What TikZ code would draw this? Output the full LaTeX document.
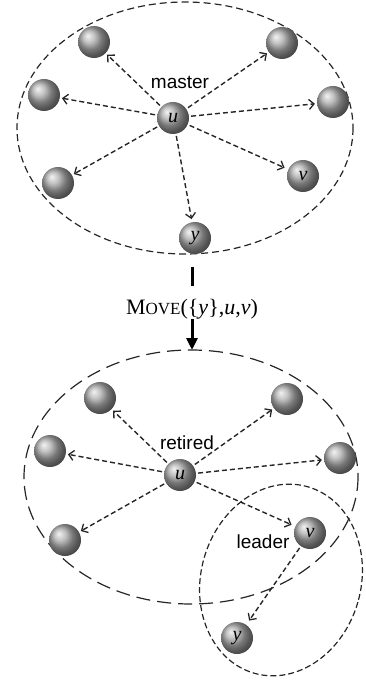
\documentclass[tikz,border=0pt]{standalone}
\usepackage{fontspec}
\setmainfont{Liberation Serif}
\newfontfamily\lsans{Liberation Sans}
\usetikzlibrary{arrows.meta}
\tikzset{
  sph/.style={circle, minimum size=32pt, inner sep=0pt, shading=ball, ball color=gray!65, font=\fontsize{20}{20}\selectfont\itshape},
  darr/.style={draw=black!85, line width=1.4pt, dash pattern=on 5pt off 3pt, -{Straight Barb[length=5pt,width=10pt,line width=1.3pt]}, shorten >=2pt, shorten <=2pt},
  lab/.style={font=\lsans\fontsize{19}{19}\selectfont, inner sep=1pt},
  encl/.style={draw=black!85, line width=1.2pt, dash pattern=on 7pt off 4pt},
  enclb/.style={draw=black!85, line width=1.2pt, dash pattern=on 14pt off 7pt},
  encls/.style={draw=black!85, line width=1.2pt, dash pattern=on 6pt off 3pt},
}
\begin{document}
\begin{tikzpicture}[x=1pt,y=-1pt]
\useasboundingbox (0,0) rectangle (366,684);
% ---------- top group ----------
\draw[encl] (185,128) ellipse [x radius=168, y radius=126];
\node[sph] (u1) at (173,118) {u};
\node[sph] (a1) at (94,42) {};
\node[sph] (b1) at (282,43) {};
\node[sph] (c1) at (44,95) {};
\node[sph] (d1) at (333,102) {};
\node[sph] (e1) at (58,183) {};
\node[sph] (v1) at (303,176) {v};
\node[sph] (y1) at (195,238) {y};
\node[lab] (m1) at (180,82) {master};
\foreach \t in {a1,b1,c1,d1,e1} \draw[darr] (u1) -- (\t);
\draw[darr, shorten >=4pt] (u1) -- (v1);
\draw[darr, shorten >=3pt] (u1) -- (y1);
% ---------- transition ----------
\coordinate (t0) at (192,267);
\coordinate (t1) at (192,286);
\coordinate (t2) at (192,319);
\coordinate (t3) at (192,350);
\node[font=\fontsize{22}{22}\selectfont, inner sep=0pt] (mv) at (192,309)
  {M{\fontsize{17}{17}\selectfont OVE}(\{\textit{y}\},\textit{u},\textit{v})};
\draw[line width=3pt] (t0) -- (t1);
\draw[line width=3pt, -{Triangle[length=12pt,width=11pt]}] (t2) -- (t3);
% ---------- bottom group ----------
\draw[enclb] (191,477) ellipse [x radius=167, y radius=127];
\draw[encls, rotate around={-16:(281,580)}] (281,580) ellipse [x radius=80, y radius=97];
\node[sph] (u2) at (180,475) {u};
\node[sph] (a2) at (100,398) {};
\node[sph] (b2) at (287,399) {};
\node[sph] (c2) at (50,451) {};
\node[sph] (d2) at (340,458) {};
\node[sph] (e2) at (65,540) {};
\node[sph] (v2) at (310,533) {v};
\node[sph] (y2) at (237,638) {y};
\node[lab] (r2) at (187,443) {retired};
\node[lab] (l2) at (263,542) {leader};
\foreach \t in {a2,b2,c2,d2,e2} \draw[darr] (u2) -- (\t);
\draw[darr, shorten >=4pt] (u2) -- (v2);
\draw[darr, shorten >=5pt] (v2) -- (y2);
\end{tikzpicture}
\end{document}
